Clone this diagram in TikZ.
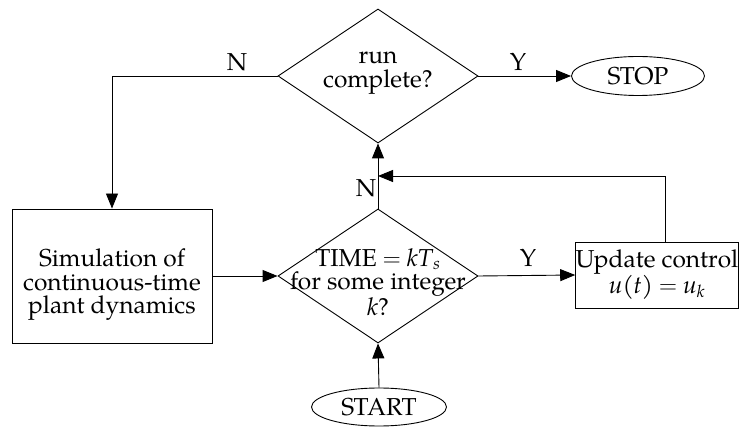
\documentclass[tikz,border=0pt]{standalone}
\usepackage{fontspec}
\setmainfont{TeX Gyre Pagella}
\usetikzlibrary{shapes.geometric,arrows.meta,calc}
\begin{document}
\begin{tikzpicture}[x=1pt,y=-1pt,
  every node/.style={font=\fontsize{24.5}{23.5}\selectfont},
  line/.style={draw,line width=0.9pt},
  arr/.style={line,-{Triangle[length=15pt,width=12pt]}},
  decision/.style={diamond,draw,line width=0.9pt,minimum width=200pt,minimum height=134pt,inner sep=0pt},
  procbox/.style={rectangle,draw,line width=0.9pt,inner sep=0pt,align=center},
  term/.style={ellipse,draw,line width=0.9pt,inner sep=0pt},
  lbl/.style={inner sep=1pt}
]
\useasboundingbox (0,0) rectangle (739,427);
\node[decision,label={[align=center,yshift=3pt]center:run\\complete?}] (q1) at (378,76) {};
\node[decision,label={[align=center,yshift=-6pt]center:TIME $=$ \textit{kT}\textsubscript{\textit{s}}\\for some integer\\\textit{k}?}] (q2) at (378,276) {};
\node[procbox,minimum width=200pt,minimum height=134pt,label={[align=center,yshift=-9pt]center:Simulation of\\continuous-time\\plant dynamics}] (sim) at (112,276) {};
\node[procbox,minimum width=158pt,minimum height=66pt] (upd) at (657,275) {Update control\\\textit{u}(\textit{t}) $=$ \textit{u}\textsubscript{\textit{k}}};
\node[term,minimum width=133pt,minimum height=39pt] (stop) at (638,76) {STOP};
\node[term,minimum width=135pt,minimum height=38pt] (start) at (379,407) {START};
\coordinate (fb) at (378,176);
\draw[arr] (q1.west) -| (sim.north);
\node[lbl] (nq1) at (237,62) {N};
\draw[arr] (q1.east) -- (stop.west);
\node[lbl] (yq1) at (518,62) {Y};
\draw[arr] (q2.north) -- (q1.south);
\node[lbl] (nq2) at (366,188) {N};
\draw[arr] ([xshift=8pt]upd.north) |- (fb);
\draw[arr] (sim.east) -- (q2.west);
\draw[arr] (q2.east) -- (upd.west);
\node[lbl] (yq2) at (528,258) {Y};
\draw[arr] (start.north) -- (q2.south);
\end{tikzpicture}
\end{document}
